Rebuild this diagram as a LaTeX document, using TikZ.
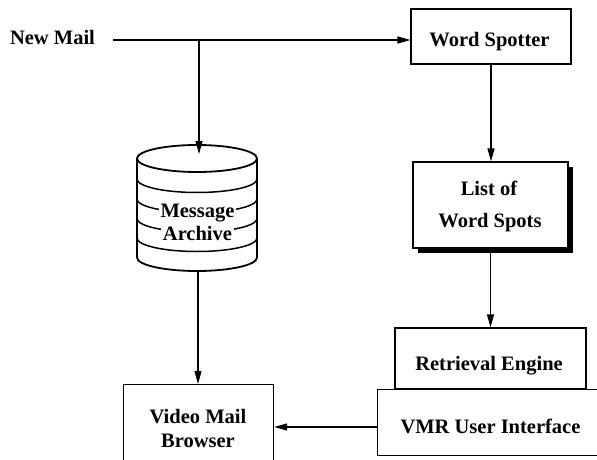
\documentclass[tikz,border=0pt]{standalone}
\usepackage{fontspec}
\setmainfont{Liberation Serif}
\usetikzlibrary{arrows.meta,shadows}
\begin{document}
\begin{tikzpicture}[x=1pt,y=-1pt, line width=1.2pt,
  txt/.style={font=\fontsize{20.5}{24}\selectfont\bfseries, inner sep=0pt, anchor=base},
  lab/.style={font=\fontsize{20.5}{24}\selectfont\bfseries, fill=white, inner sep=1.5pt, anchor=base},
  box/.style={draw, line width=1.2pt, fill=white, inner sep=0pt},
  arr/.style={-{Triangle[length=13pt,width=7pt]}},
  cyl/.style={line width=1.8pt},
  stripe/.style={line width=1.5pt}]
\useasboundingbox (0,0) rectangle (597,460);
\clip (0,0) rectangle (597,460);

% New Mail input
\node[txt] (nm) at (52.5,45) {New Mail};
\coordinate (nmstart) at (113,40);
\coordinate (branch) at (199,40);

% Word Spotter
\node[box, minimum width=160pt, minimum height=55pt] (ws) at (491,36.5) {};
\node[txt] (wst) at (489.5,46.5) {Word Spotter};
\draw[arr] (nmstart) -- (nmstart -| ws.west);

% Message Archive cylinder
\coordinate (cyltop) at (199,154);
\coordinate (cylbot) at (198,271);
\draw[cyl] (197,158.5) ellipse [x radius=60pt, y radius=13.5pt];
\draw[cyl] (137,158.5) -- (137,257.5) arc[start angle=180, end angle=360, x radius=60pt, y radius=13.5pt] -- (257,158.5);
\foreach \yy in {179,199,218.5,238}
  \draw[stripe] (137,\yy) arc[start angle=180, end angle=360, x radius=60pt, y radius=13.5pt];
\node[lab] (msg) at (197.5,217) {Message};
\node[lab] (arch) at (197.5,240) {Archive};
\draw[arr] (branch) -- (cyltop);

% List of Word Spots
\node[box, minimum width=155pt, minimum height=86pt,
  drop shadow={shadow xshift=4.5pt, shadow yshift=-4.5pt, opacity=1, fill=black}] (lw) at (490.5,205) {};
\node[txt] (lwt1) at (489,195) {List of};
\node[txt] (lwt2) at (490,227) {Word Spots};
\draw[arr] (ws.south) -- (ws.south |- lw.north);

% Retrieval Engine
\node[box, minimum width=191pt, minimum height=61pt] (re) at (490.5,358.5) {};
\node[txt] (ret) at (489,370) {Retrieval Engine};
\draw[arr] (lw.south) -- (lw.south |- re.north);

% VMR User Interface
\node[box, anchor=north west, minimum width=240pt, minimum height=66pt] (vmr) at (377,389) {};
\node[txt] (vmrt) at (490.5,433) {VMR User Interface};
\coordinate (vmrl) at (377,427);

% Video Mail Browser
\node[box, anchor=north west, minimum width=150pt, minimum height=90pt] (vb) at (123,384) {};
\node[txt] (vbt1) at (198,423) {Video Mail};
\node[txt] (vbt2) at (198,447) {Browser};

\draw[arr] (vmrl) -- (vmrl -| vb.east);
\draw[arr] (cylbot) -- (cylbot |- vb.north);
\end{tikzpicture}
\end{document}
